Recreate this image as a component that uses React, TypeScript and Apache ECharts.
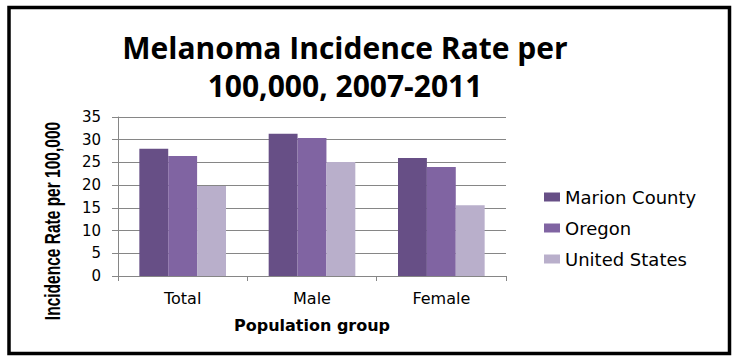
import React, { useEffect, useRef } from "react";
import * as echarts from "echarts";

const categories = ["Total", "Male", "Female"];
const marionCounty = [28.0, 31.3, 26.0];
const oregon = [26.4, 30.4, 24.0];
const unitedStates = [19.8, 25.1, 15.6];
const seriesNames = ["Marion County", "Oregon", "United States"];
const seriesColors = ["#674F86", "#8064A2", "#B9AFCB"];
const titleText = "Melanoma Incidence Rate per\n100,000, 2007-2011";
const yAxisTitle = "Incidence Rate per 100,000";
const xAxisTitle = "Population group";

export default function App() {
  const ref = useRef<HTMLDivElement>(null);
  useEffect(() => {
    if (!ref.current) return;
    const chart = echarts.init(ref.current, null, { renderer: "svg" });
    const values = [marionCounty, oregon, unitedStates];
    chart.setOption({
      animation: false,
      backgroundColor: "#ffffff",
      title: {
        text: titleText,
        left: 340,
        textAlign: "center",
        top: 23,
        textStyle: {
          fontFamily: "Open Sans",
          fontWeight: "bold",
          fontSize: 30,
          lineHeight: 38,
          color: "#000000",
        },
      },
      graphic: [
        {
          type: "rect",
          shape: { x: 9, y: 7.5, width: 720.5, height: 346 },
          style: { fill: "none", stroke: "#000000", lineWidth: 3.5 },
          silent: true,
        },
        {
          type: "text",
          x: 53,
          y: 221,
          rotation: Math.PI / 2,
          scaleX: 0.97,
          scaleY: 1.35,
          silent: true,
          style: {
            text: yAxisTitle,
            fontFamily: "Liberation Sans",
            fontWeight: "bold",
            fontSize: 16,
            fill: "#000000",
            align: "center",
            verticalAlign: "middle",
          },
        },
      ],
      legend: {
        orient: "vertical",
        left: 539,
        top: 183,
        itemWidth: 16,
        itemHeight: 9,
        itemGap: 13,
        icon: "rect",
        textStyle: {
          fontFamily: "DejaVu Sans",
          fontSize: 18,
          color: "#000000",
        },
        data: seriesNames,
      },
      grid: { left: 118, right: 227, top: 117, bottom: 80 },
      xAxis: {
        type: "category",
        data: categories,
        name: xAxisTitle,
        nameLocation: "middle",
        nameGap: 41,
        nameTextStyle: {
          fontFamily: "DejaVu Sans",
          fontWeight: "bold",
          fontSize: 16,
          color: "#000000",
        },
        axisLine: { lineStyle: { color: "#868686", width: 1 } },
        axisTick: { show: true, length: 5, lineStyle: { color: "#868686" } },
        axisLabel: {
          fontFamily: "DejaVu Sans",
          fontSize: 16,
          color: "#000000",
          margin: 14,
        },
      },
      yAxis: {
        type: "value",
        min: 0,
        max: 35,
        interval: 5,
        axisLine: { show: true, lineStyle: { color: "#868686", width: 1 } },
        axisTick: { show: true, length: 6, lineStyle: { color: "#868686" } },
        splitLine: { lineStyle: { color: "#868686", width: 1 } },
        axisLabel: {
          fontFamily: "DejaVu Sans",
          fontSize: 15,
          color: "#000000",
          margin: 17,
        },
      },
      series: seriesNames.map((name, i) => ({
        name,
        type: "bar",
        data: values[i],
        barGap: "0%",
        barCategoryGap: "33%",
        itemStyle: { color: seriesColors[i] },
      })),
    });
    return () => chart.dispose();
  }, []);
  return (
    <div
      ref={ref}
      style={{ position: "absolute", left: 0, top: 0, width: 733, height: 356 }}
    />
  );
}
